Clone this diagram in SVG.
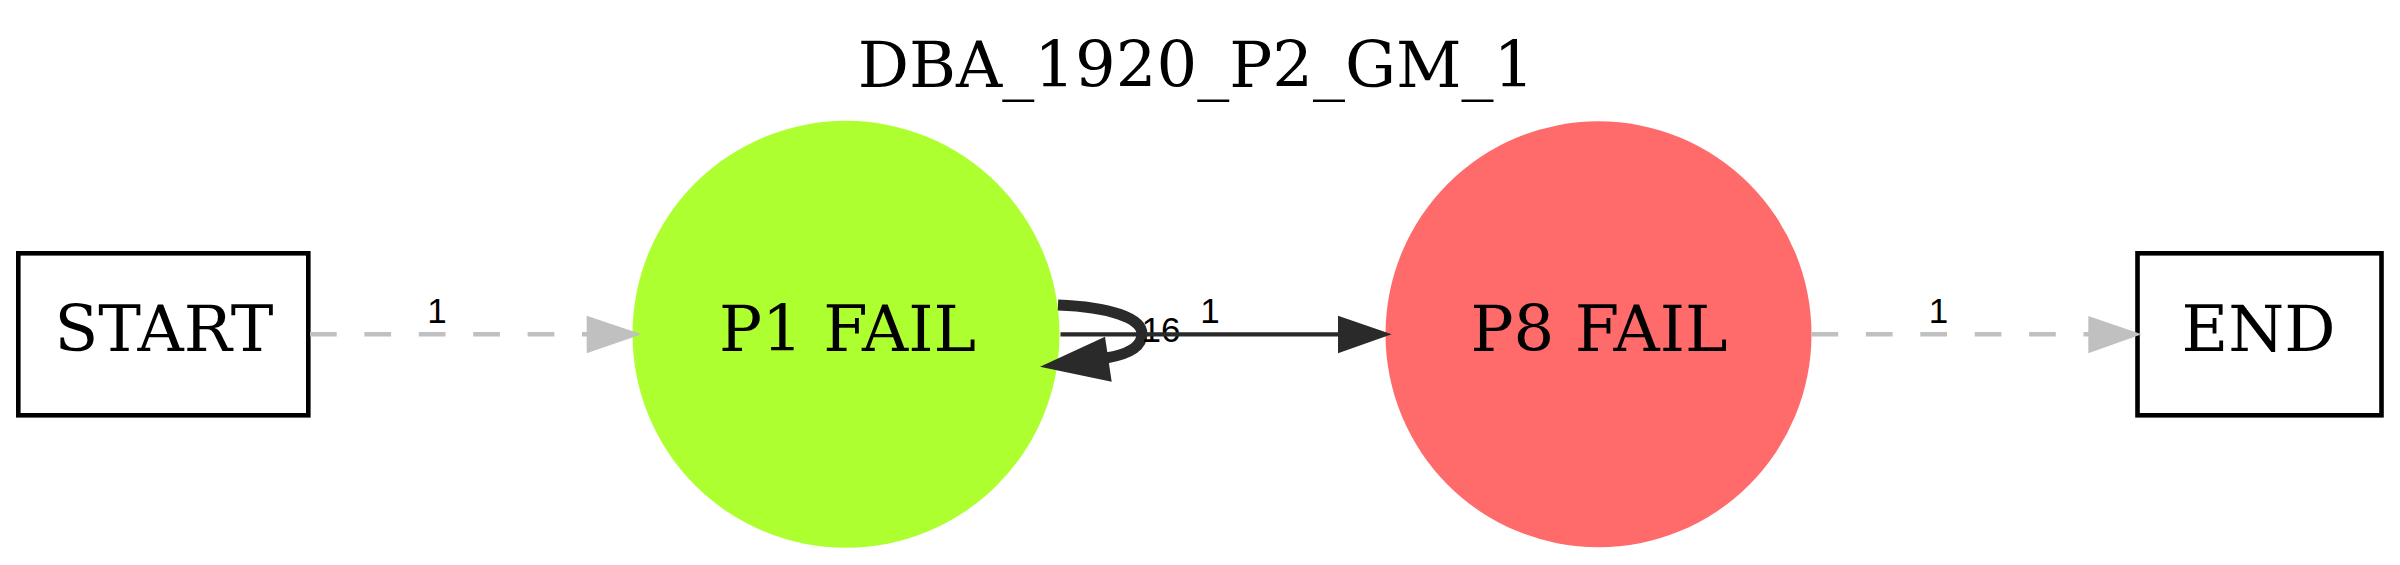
<svg xmlns="http://www.w3.org/2000/svg" width="2400" height="565" viewBox="0 0 2400 565">
<style>
.serif{font-family:"DejaVu Serif","Liberation Serif",serif;font-size:64px;fill:#000;text-anchor:middle}
.elabel{font-family:"Liberation Sans",Arial,sans-serif;font-size:35px;fill:#000;text-anchor:middle}
.box{fill:#fff;stroke:#000;stroke-width:4.6}
.dash{fill:none;stroke:#c0c0c0;stroke-width:4.4;stroke-dasharray:26.7 27.7}
.solid{fill:none;stroke:#2a2a2a;stroke-width:4.2}
.gray{fill:#c0c0c0}
.dark{fill:#2a2a2a}
</style>
<rect width="2400" height="565" fill="#fff"/>
<text class="serif" x="1196" y="87">DBA_1920_P2_GM_1</text>
<g id="node-start">
<rect class="box" x="18.3" y="253.3" width="290" height="162"/>
<text class="serif" x="164" y="350.7">START</text>
</g>
<g id="node-p1">
<circle cx="846" cy="334.3" r="213.5" fill="#adff2f"/>
<text class="serif" x="847.5" y="350.7">P1 FAIL</text>
</g>
<g id="node-p8">
<circle cx="1598.5" cy="334.3" r="213" fill="#ff6a6a"/>
<text class="serif" x="1599" y="350.7">P8 FAIL</text>
</g>
<g id="node-end">
<rect class="box" x="2137.5" y="253.3" width="244" height="162"/>
<text class="serif" x="2258.5" y="350.7">END</text>
</g>
<g id="connectors">
<g id="e-start-p1">
<path class="dash" d="M310,334.3 L588,334.3"/>
<polygon class="gray" points="586.7,315.7 641.7,334.3 586.7,353.3"/>
<text class="elabel" x="437" y="322.7">1</text>
</g>
<g id="e-p1-p1">
<path fill="none" stroke="#2a2a2a" stroke-width="11" d="M1058,305 C1110,307 1142,318 1142,334 C1142,346 1130,354 1106,358"/>
<polygon class="dark" points="1040,366.7 1105,336.7 1111.7,381.7"/>
<text class="elabel" x="1161" y="341.7">16</text>
</g>
<g id="e-p1-p8">
<path class="solid" d="M1060.5,334.3 L1340,334.3"/>
<polygon class="dark" points="1338,315.7 1391.7,334.3 1338,353.3"/>
<text class="elabel" x="1210" y="322.7">1</text>
</g>
<g id="e-p8-end">
<path class="dash" d="M1811.5,334.3 L2090,334.3"/>
<polygon class="gray" points="2088.3,316 2141.7,334.3 2088.3,353.3"/>
<text class="elabel" x="1938.5" y="322.7">1</text>
</g>
</g>
</svg>
